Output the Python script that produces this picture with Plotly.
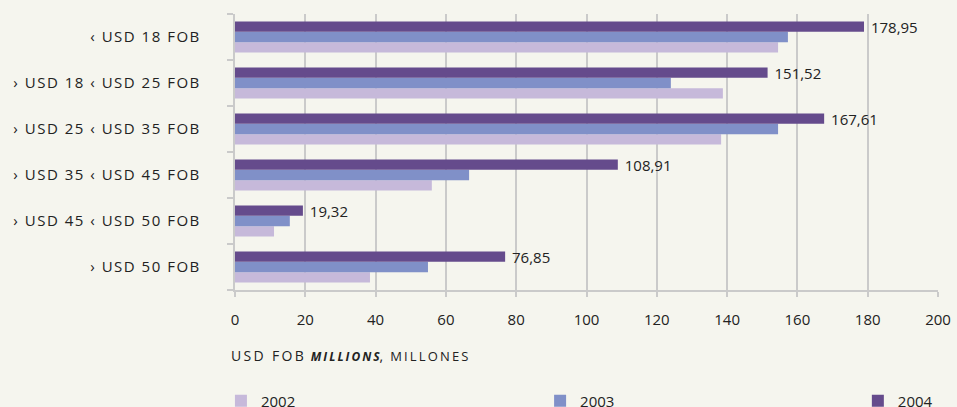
import plotly.graph_objects as go

categories = ["‹ USD 18 FOB", "› USD 18 ‹ USD 25 FOB", "› USD 25 ‹ USD 35 FOB",
              "› USD 35 ‹ USD 45 FOB", "› USD 45 ‹ USD 50 FOB", "› USD 50 FOB"]
years = ["2002", "2003", "2004"]
v2002 = [154.5, 138.8, 138.3, 56.0, 11.1, 38.4]
v2003 = [157.3, 124.0, 154.5, 66.6, 15.6, 54.9]
v2004 = [178.95, 151.52, 167.61, 108.91, 19.32, 76.85]
x_ticks = [0, 20, 40, 60, 80, 100, 120, 140, 160, 180, 200]

colors = {"2002": "#c6b9da", "2003": "#8090c8", "2004": "#654b8c"}
BG = "#f5f5ee"
GRID = "#cacaca"
TXT = "#222222"
FONT = "Open Sans, sans-serif"


def track(s, sp="\u200a"):
    return sp.join(list(s))


cat_disp = [track(c) for c in categories]
series = {"2002": v2002, "2003": v2003, "2004": v2004}
legend_ids = {"2002": "legend", "2003": "legend2", "2004": "legend3"}
legend_x = {"2002": -0.02, "2003": 0.434, "2004": 0.886}

fig = go.Figure()
for y in years:
    vals = series[y]
    kw = {}
    if y == "2004":
        kw = dict(text=["\u00a0" + f"{v:.2f}".replace(".", ",") for v in vals],
                  textposition="outside", cliponaxis=False, constraintext="none",
                  textfont=dict(family=FONT, size=15, color=TXT))
    fig.add_trace(go.Bar(y=cat_disp, x=vals, name=y, orientation="h", legend=legend_ids[y],
                         marker=dict(color=colors[y], line=dict(width=0)), **kw))

legend_common = dict(orientation="h", xanchor="left", y=-0.342, yanchor="top",
                     font=dict(family=FONT, size=15, color=TXT), bgcolor="rgba(0,0,0,0)")

fig.update_layout(
    width=957, height=407,
    paper_bgcolor=BG, plot_bgcolor=BG,
    margin=dict(l=235, r=19, t=14, b=117, autoexpand=False),
    barmode="group", bargap=0.33, bargroupgap=0,
    font=dict(family=FONT, size=14, color=TXT),
    showlegend=True,
    legend=dict(x=legend_x["2002"], **legend_common),
    legend2=dict(x=legend_x["2003"], **legend_common),
    legend3=dict(x=legend_x["2004"], **legend_common),
    xaxis=dict(range=[0, 200], tickvals=x_ticks, showgrid=True, gridcolor=GRID, gridwidth=1.5,
               showline=True, linecolor=GRID, linewidth=1.5, ticks="outside", ticklen=5,
               tickcolor=GRID, tickwidth=1.5, zeroline=False, ticklabelstandoff=10,
               automargin=False,
               tickfont=dict(family=FONT, size=15, color=TXT)),
    yaxis=dict(type="category", categoryorder="array", categoryarray=cat_disp[::-1],
               showline=True, linecolor=GRID, linewidth=1.5, ticks="outside", ticklen=6,
               tickcolor=GRID, tickwidth=1.5, tickson="boundaries", showgrid=False,
               ticklabelstandoff=31, automargin=False,
               tickfont=dict(family=FONT, size=15, color=TXT)),
    annotations=[dict(
        text=track("USD FOB", "\u2009") + "\u2002<b><i><span style='font-size:12px'>" + track("MILLIONS", "\u2009")
             + "</span></i></b>,\u2002<span style='font-size:13px'>" + track("MILLONES", "\u2009") + "</span>",
        xref="paper", yref="paper", x=-0.009, y=-0.239, xanchor="left", yanchor="middle",
        showarrow=False, font=dict(family=FONT, size=14, color=TXT))],
)

fig.write_html("out.html", config={"displayModeBar": False},
               post_script="document.body.style.margin='0';document.body.style.background='%s';" % BG)
